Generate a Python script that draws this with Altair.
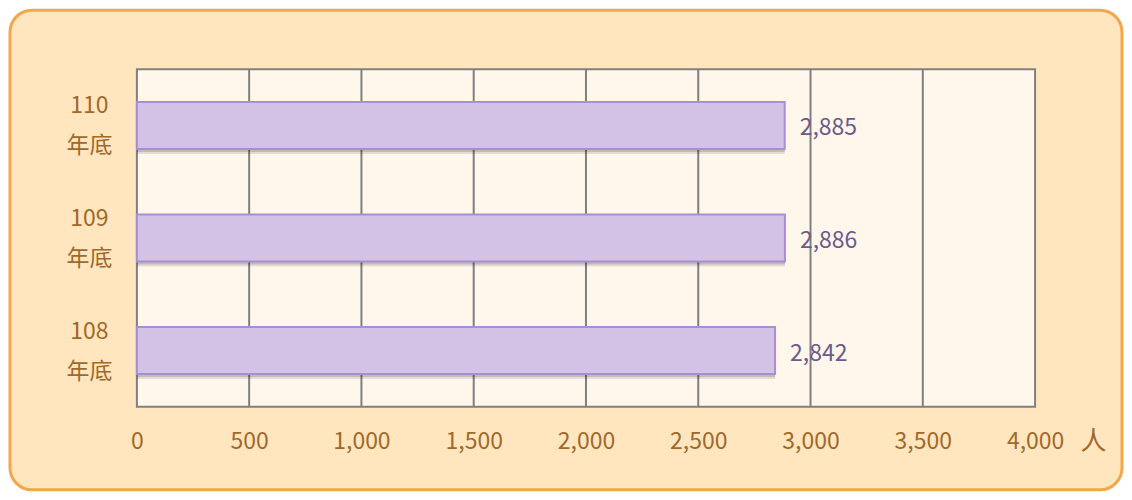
import altair as alt
import pandas as pd

# ---- data ----
years = ["110", "109", "108"]
values = [2885, 2886, 2842]
suffix = "年底"
tick_values = [0, 500, 1000, 1500, 2000, 2500, 3000, 3500, 4000]
unit = "人"

FONT = "Noto Sans CJK TC"
W, H = 899, 338
LABEL_BROWN = "#A0692B"

df = pd.DataFrame({"year": years, "value": values})
grid_df = pd.DataFrame({"tick": tick_values[1:-1]})
deco = alt.Data(values=[{"k": 1}])

x_scale = alt.Scale(domain=[0, 4000], nice=False)
y_scale = alt.Scale(domain=years, paddingInner=0.583, paddingOuter=0.2915)

x_axis = alt.Axis(
    values=tick_values, format=",d", ticks=False, tickSize=0, domain=False, grid=False,
    labelFontSize=23, labelColor=LABEL_BROWN, labelFont=FONT, labelPadding=35,
    labelBaseline="middle", labelOverlap=False, labelFlush=False,
    title=unit, titleX=957, titleY=35, titleAngle=0, titleAlign="center",
    titleBaseline="middle", titleFontSize=26, titleFontWeight="normal",
    titleColor=LABEL_BROWN, titleFont=FONT, zindex=1,
)
y_axis = alt.Axis(
    title=None, ticks=False, tickSize=0, domain=False, grid=False,
    labelExpr=f"[datum.value, '{suffix}']", labelLineHeight=40,
    labelFontSize=23, labelColor=LABEL_BROWN, labelFont=FONT,
    labelPadding=48, labelAlign="center", labelBaseline="middle",
    labelOffset=-19, zindex=1,
)

outer = alt.Chart(deco).mark_rect(
    fill="#FFE6BF", stroke="#F4A64A", strokeWidth=3, cornerRadius=22
).encode(
    x=alt.value(-127), x2=alt.value(986), y=alt.value(-59), y2=alt.value(421)
)

inner = alt.Chart(deco).mark_rect(
    fill="#FFF7EB", stroke="#808080", strokeWidth=2
).encode(
    x=alt.value(0), x2=alt.value(W), y=alt.value(0), y2=alt.value(H)
)

grid = alt.Chart(grid_df).mark_rule(color="#7F7F7F", strokeWidth=2).encode(
    x=alt.X("tick:Q", scale=x_scale, axis=x_axis),
    y=alt.value(0), y2=alt.value(H),
)

shadow1 = alt.Chart(df).mark_bar(color="#000000", opacity=0.15, yOffset=3).encode(
    x=alt.X("value:Q", scale=x_scale),
    y=alt.Y("year:N", scale=y_scale, sort=years, axis=y_axis),
)
shadow2 = alt.Chart(df).mark_bar(color="#000000", opacity=0.10, yOffset=5).encode(
    x=alt.X("value:Q", scale=x_scale),
    y=alt.Y("year:N", scale=y_scale, sort=years),
)

bars = alt.Chart(df).mark_bar(
    fill="#D4C2E6", stroke="#A98ED2", strokeWidth=2
).encode(
    x=alt.X("value:Q", scale=x_scale),
    y=alt.Y("year:N", scale=y_scale, sort=years),
)

labels = alt.Chart(df).mark_text(
    align="left", baseline="middle", dx=15, dy=3, fontSize=23, font=FONT, color="#6B5A8C"
).encode(
    x=alt.X("value:Q", scale=x_scale),
    y=alt.Y("year:N", scale=y_scale, sort=years),
    text=alt.Text("value:Q", format=",d"),
)

chart = alt.layer(outer, inner, grid, shadow1, shadow2, bars, labels).properties(
    width=W, height=H, padding=0, background="transparent"
).configure_view(stroke=None)

chart.save("out.html", embed_options={"renderer": "svg", "actions": False})
